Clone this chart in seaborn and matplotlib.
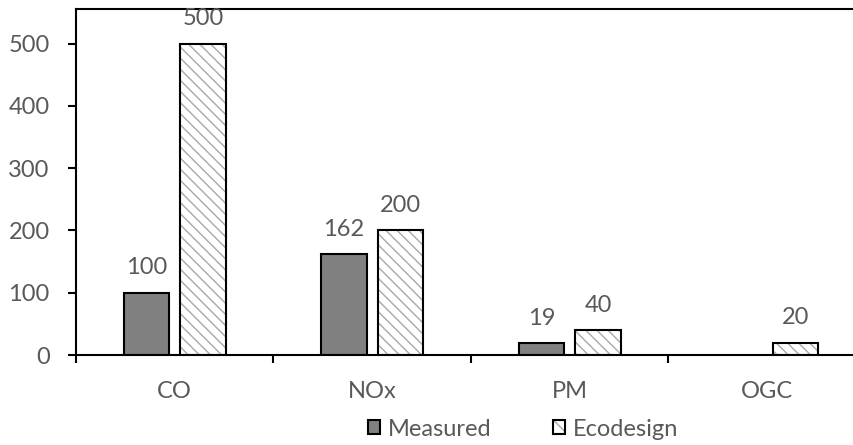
import matplotlib
matplotlib.use("Agg")
import matplotlib.pyplot as plt
from matplotlib.colors import to_rgba
from matplotlib.patches import Patch
import seaborn as sns
import pandas as pd
import numpy as np

pollutants = ["CO", "NOx", "PM", "OGC"]
measured = [100, 162, 19, 0]
ecodesign = [500, 200, 40, 20]
series_names = ["Measured", "Ecodesign"]
y_ticks = [0, 100, 200, 300, 400, 500]

df = pd.DataFrame({
    "pollutant": pollutants * 2,
    "value": measured + ecodesign,
    "series": [series_names[0]] * len(pollutants) + [series_names[1]] * len(pollutants),
})

sns.set_theme(style="white")
plt.rcParams["font.family"] = ["Lato", "DejaVu Sans"]
plt.rcParams["hatch.linewidth"] = 1.0

text_color = "#595959"
fs = 17
fig = plt.figure(figsize=(8.54, 4.45), dpi=100)
ax = fig.add_axes([76 / 854, 1 - 355 / 445, 790 / 854, 346 / 445])

sns.barplot(data=df, x="pollutant", y="value", hue="series", order=pollutants,
            hue_order=series_names, palette=["#808080", "white"],
            width=0.572, gap=0.2, edgecolor="black", linewidth=1.5,
            legend=False, ax=ax)

hatch_gray = to_rgba("#a8a8a8")
hatch = "\\\\\\"
for container, name in zip(ax.containers, series_names):
    vals = measured if name == "Measured" else ecodesign
    for bar, v in zip(container, vals):
        if name == "Ecodesign":
            bar.set_hatch(hatch)
            bar._hatch_color = hatch_gray
        if v == 0:
            bar.set_visible(False)
            continue
        ax.annotate(f"{v}", (bar.get_x() + bar.get_width() / 2, v),
                    xytext=(0, 18), textcoords="offset points",
                    ha="center", va="center", fontsize=fs, color=text_color)

ax.set_ylim(0, 555.6)
ax.set_xlim(-0.5, len(pollutants) - 0.5)
ax.set_yticks(y_ticks)
ax.set_xlabel("")
ax.set_ylabel("")

ax.set_xticks(np.arange(-0.5, len(pollutants)), minor=True)
ax.tick_params(axis="x", which="major", length=0, pad=19, labelsize=fs, labelcolor=text_color)
ax.tick_params(axis="x", which="minor", bottom=True, length=6, width=1.5, color="black", direction="out")
ax.tick_params(axis="y", which="major", left=True, length=6, width=1.5, color="black",
               direction="out", pad=13, labelsize=fs, labelcolor=text_color)

for side in ["left", "bottom", "top", "right"]:
    ax.spines[side].set_visible(True)
    ax.spines[side].set_color("black")
    ax.spines[side].set_linewidth(1.5)

handles = [
    Patch(facecolor="#808080", edgecolor="black", linewidth=1.5, label="Measured"),
    Patch(facecolor="white", edgecolor="black", linewidth=1.5, hatch="\\\\", label="Ecodesign"),
]
leg = fig.legend(handles=handles, loc="center", bbox_to_anchor=(523 / 854, 1 - 429 / 445),
                 ncol=2, frameon=False, fontsize=fs, handlelength=0.5, handleheight=0.5,
                 handletextpad=0.35, columnspacing=2.6)
for t in leg.get_texts():
    t.set_color(text_color)
for p in leg.get_patches():
    if p.get_hatch():
        p._hatch_color = hatch_gray

fig.savefig("out.png", dpi=100)
